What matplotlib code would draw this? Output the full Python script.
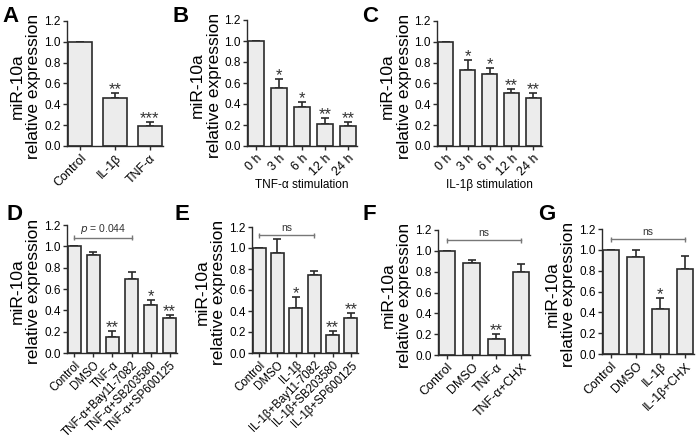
import numpy as np
import matplotlib
matplotlib.use('Agg')
import matplotlib.pyplot as plt

plt.rcParams['font.family'] = ['Liberation Sans', 'DejaVu Sans']

# ---- data ----
a_labels = ['Control', 'IL-1β', 'TNF-α']
a_vals = [1.0, 0.46, 0.19]
a_errs = [0.0, 0.05, 0.04]
a_stars = ['', '**', '***']

time_labels = ['0 h', '3 h', '6 h', '12 h', '24 h']
b_vals = [1.0, 0.55, 0.37, 0.21, 0.19]
b_errs = [0.0, 0.09, 0.05, 0.055, 0.04]
b_stars = ['', '*', '*', '**', '**']

c_vals = [1.0, 0.725, 0.69, 0.51, 0.46]
c_errs = [0.0, 0.10, 0.06, 0.035, 0.045]
c_stars = ['', '*', '*', '**', '**']

d_labels = ['Control', 'DMSO', 'TNF-α', 'TNF-α+Bay11-7082', 'TNF-α+SB203580', 'TNF-α+SP600125']
d_vals = [1.0, 0.92, 0.15, 0.69, 0.45, 0.33]
d_errs = [0.0, 0.03, 0.055, 0.065, 0.045, 0.025]
d_stars = ['', '', '**', '', '*', '**']

e_labels = ['Control', 'DMSO', 'IL-1β', 'IL-1β+Bay11-7082', 'IL-1β+SB203580', 'IL-1β+SP600125']
e_vals = [1.0, 0.95, 0.43, 0.74, 0.17, 0.33]
e_errs = [0.0, 0.14, 0.105, 0.04, 0.04, 0.05]
e_stars = ['', '', '*', '', '**', '**']

f_labels = ['Control', 'DMSO', 'TNF-α', 'TNF-α+CHX']
f_vals = [1.0, 0.88, 0.15, 0.80]
f_errs = [0.0, 0.03, 0.05, 0.07]
f_stars = ['', '', '**', '']

g_labels = ['Control', 'DMSO', 'IL-1β', 'IL-1β+CHX']
g_vals = [1.0, 0.93, 0.43, 0.815]
g_errs = [0.0, 0.07, 0.105, 0.13]
g_stars = ['', '', '*', '']

W, H = 700, 440
fig = plt.figure(figsize=(7, 4.4), dpi=100)
dark = '#2b2b2b'


def rect(x0, x1, y0, y1):
    # pixel box -> figure fraction
    return [x0 / W, 1 - y1 / H, (x1 - x0) / W, (y1 - y0) / H]


def panel(box, labels, vals, errs, stars, xlabel=None, bracket=None, w=0.72, xfs=9):
    ax = fig.add_axes(rect(*box))
    x = np.arange(len(vals))
    ax.bar(x, vals, width=w, color='#ececec', edgecolor=dark, linewidth=1.2, zorder=2)
    ax.errorbar(x, vals, yerr=[np.zeros(len(vals)), errs], fmt='none',
                ecolor=dark, elinewidth=1.2, capsize=3, capthick=1.2, zorder=1)
    for xi, v, e, s in zip(x, vals, errs, stars):
        if s:
            ax.text(xi, v + e - 0.04, s, ha='center', va='bottom', fontsize=12, color='#333333')
    ax.set_xlim(-w / 2 - 0.03, len(vals) - 1 + w / 2 + 0.03)
    ax.set_ylim(0, 1.2)
    ax.set_yticks(np.arange(0, 1.21, 0.2))
    ax.set_yticklabels(['%.1f' % t for t in np.arange(0, 1.21, 0.2)])
    ax.set_xticks(x)
    ax.set_xticklabels(labels, rotation=45, ha='right', rotation_mode='anchor', fontsize=xfs)
    for sp in ['top', 'right']:
        ax.spines[sp].set_visible(False)
    for sp in ['left', 'bottom']:
        ax.spines[sp].set_color(dark)
        ax.spines[sp].set_linewidth(1.0)
    ax.tick_params(axis='both', length=3, width=1.0, color=dark, pad=1.5)
    ax.tick_params(axis='y', labelsize=8.5)
    # two-line y label, one text per line
    for txt, off in [('miR-10a', -50), ('relative expression', -33)]:
        ax.annotate(txt, xy=(0, 0.48), xycoords='axes fraction', xytext=(off, 0),
                    textcoords='offset pixels', rotation=90, ha='center', va='center',
                    fontsize=12.5)
    if xlabel:
        ax.set_xlabel(xlabel, fontsize=8.5, labelpad=1)
    if bracket:
        i0, i1, yb, txt = bracket
        ax.errorbar([i0, i1], [yb, yb], yerr=0.025, fmt='none', ecolor='#777777',
                    elinewidth=1.0, capsize=0, clip_on=False)
        ax.plot([i0, i1], [yb, yb], color='#777777', lw=1.0, clip_on=False)
        ax.text((i0 + i1) / 2, yb + 0.02, txt, ha='center', va='bottom', fontsize=7.5,
                color='#333333')
    return ax


panel((67, 163, 21, 146), a_labels, a_vals, a_errs, a_stars, w=0.7)
panel((247, 357, 20, 146), time_labels, b_vals, b_errs, b_stars, xlabel='TNF-α stimulation')
panel((437, 542, 21, 146), time_labels, c_vals, c_errs, c_stars, xlabel='IL-1β stimulation')
panel((67, 177, 225, 353), d_labels, d_vals, d_errs, d_stars,
      bracket=(0, 3, 1.08, '$p$ = 0.044'), xfs=8.3)
panel((252, 358, 227, 353), e_labels, e_vals, e_errs, e_stars,
      bracket=(0, 3, 1.12, 'ns'), xfs=8.3)
panel((438, 530, 230, 355), f_labels, f_vals, f_errs, f_stars,
      bracket=(0, 3, 1.10, 'ns'), w=0.68)
panel((602, 694, 229, 354), g_labels, g_vals, g_errs, g_stars,
      bracket=(0, 3, 1.10, 'ns'), w=0.68)

for letter, px, py in [('A', 2, 6), ('B', 172, 6), ('C', 362, 6),
                       ('D', 6, 204), ('E', 175, 204), ('F', 363, 204), ('G', 538, 204)]:
    fig.text(px / W, 1 - py / H, letter, fontsize=16, fontweight='bold',
             ha='left', va='top')

fig.savefig('out.png', dpi=100)
